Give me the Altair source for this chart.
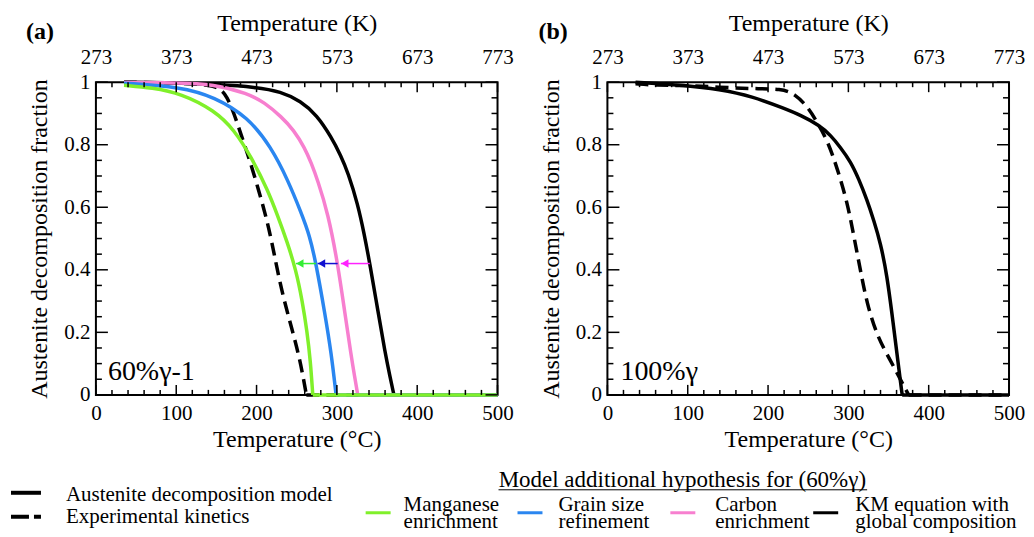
import altair as alt
import pandas as pd

FONT = "Liberation Serif"
W, H = 402, 313

# ---------------- data (temperature in °C, austenite decomposition fraction) -------------
# Panel (a): 60%γ-1
a_km_T = [35, 100, 150, 200, 230, 255, 275, 293, 305, 314, 326, 334, 341, 351, 360, 366, 371, 500]
a_km_f = [1.0, 0.998, 0.993, 0.984, 0.97, 0.94, 0.895, 0.825, 0.765, 0.71, 0.61, 0.515, 0.42, 0.27, 0.135, 0.06, 0.0, 0.0]

a_c_T = [35, 100, 147, 189, 210, 231, 246, 260, 268, 276, 289, 301, 310, 318, 322, 326, 500]
a_c_f = [0.999, 0.998, 0.994, 0.964, 0.935, 0.889, 0.848, 0.79, 0.742, 0.687, 0.58, 0.421, 0.261, 0.122, 0.06, 0.0, 0.0]

a_g_T = [35, 106, 147.5, 189, 218, 239, 256, 266, 274, 285, 293, 299, 500]
a_g_f = [0.997, 0.985, 0.953, 0.889, 0.793, 0.687, 0.58, 0.51, 0.421, 0.261, 0.134, 0.0, 0.0]

a_mn_T = [35, 70, 106, 147.5, 172.4, 193.3, 214, 226, 238, 249, 257, 263, 267, 270, 500]
a_mn_f = [0.99, 0.982, 0.964, 0.91, 0.847, 0.761, 0.655, 0.575, 0.49, 0.40, 0.30, 0.20, 0.11, 0.0, 0.0]

a_exp_T = [35, 100, 140, 155, 163, 172, 181, 189, 201, 214, 222, 231, 243, 254, 262, 500]
a_exp_f = [1.0, 0.998, 0.992, 0.98, 0.955, 0.9, 0.83, 0.77, 0.67, 0.55, 0.45, 0.335, 0.22, 0.115, 0.0, 0.0]

# Arrows (shift of KM curve at fraction 0.42)
arrow_from = [341, 301, 274]
arrow_to = [305, 276, 249]
arrow_f = [0.42, 0.42, 0.42]
arrow_colors = ["#ff22ff", "#1010d0", "#33ee33"]

# Panel (b): 100%γ
b_mod_T = [35, 98, 139, 180, 221, 240, 264, 278, 290, 303, 313, 323, 332, 340, 348, 356, 362, 367, 500]
b_mod_f = [1.0, 0.99, 0.977, 0.955, 0.915, 0.895, 0.862, 0.83, 0.792, 0.745, 0.69, 0.625, 0.555, 0.485, 0.385, 0.225, 0.10, 0.0, 0.0]

b_exp_T = [35, 60, 98, 139, 180, 217, 233, 250, 262, 274, 287, 299, 307, 315, 323, 336, 352, 365, 375, 500]
b_exp_f = [0.995, 0.99, 0.99, 0.984, 0.979, 0.979, 0.963, 0.92, 0.867, 0.814, 0.718, 0.612, 0.505, 0.399, 0.293, 0.186, 0.112, 0.048, 0.0, 0.0]

# Axis ticks
c_major = [0, 100, 200, 300, 400, 500]
c_minor = [t for t in range(0, 501, 20) if t % 100]
k_major = [273, 373, 473, 573, 673, 773]
k_minor = [t + 273 for t in c_minor]
f_major = [0, 0.2, 0.4, 0.6, 0.8, 1.0]
f_minor = [0.05, 0.1, 0.15, 0.25, 0.3, 0.35, 0.45, 0.5, 0.55, 0.65, 0.7, 0.75, 0.85, 0.9, 0.95]

left_legend_labels = ["Austenite decomposition model", "Experimental kinetics"]
right_legend_title = "Model additional hypothesis for (60%γ)"
right_legend_labels = ["Manganese\nenrichment", "Grain size\nrefinement", "Carbon\nenrichment", "KM equation with\nglobal composition"]

GREEN, BLUE, PINK, BLACK = "#80f02a", "#2a86f0", "#f77fcf", "#000000"
right_legend_colors = [GREEN, BLUE, PINK, BLACK]

# ---------------- helpers -------------
common = dict(labelFont=FONT, titleFont=FONT, labelColor="black", titleColor="black",
              titleFontWeight="normal", ticks=False, domain=False, grid=False)
axis_bottom = alt.Axis(values=c_major, labelFontSize=21, labelPadding=8, labelFlush=False,
                       title="Temperature (°C)", titleFontSize=24, titlePadding=4, **common)
axis_left = alt.Axis(values=f_major, format="~g", labelFontSize=21, labelPadding=6, labelFlush=False,
                     title="Austenite decomposition fraction", titleFontSize=24, titlePadding=12, **common)
axis_top = alt.Axis(orient="top", values=k_major, labelFontSize=21, labelPadding=15, labelFlush=False,
                    title="Temperature (K)", titleFontSize=24, titlePadding=11, **common)

sc_C = alt.Scale(domain=[0, 500], nice=False, zero=False, padding=0)
xC = alt.X("T:Q", scale=sc_C, axis=axis_bottom)
yF = alt.Y("f:Q", scale=alt.Scale(domain=[0, 1], nice=False, padding=0), axis=axis_left)
xK = alt.X("K:Q", scale=alt.Scale(domain=[273, 773], nice=False, zero=False, padding=0), axis=axis_top)


def tick_layers():
    layers = []
    for vals, ln in ((c_major, 10), (c_minor, 5)):
        d = pd.DataFrame({"T": vals})
        layers.append(alt.Chart(d).mark_rule(color="black", strokeWidth=1.5).encode(
            x=xC, y=alt.value(H), y2=alt.value(H - ln)))
    for vals, ln in ((f_major, 12), (f_minor, 6)):
        d = pd.DataFrame({"f": vals})
        layers.append(alt.Chart(d).mark_rule(color="black", strokeWidth=1.5).encode(
            y=yF, x=alt.value(0), x2=alt.value(ln)))
        layers.append(alt.Chart(d).mark_rule(color="black", strokeWidth=1.5).encode(
            y=yF, x=alt.value(W), x2=alt.value(W - ln)))
    return layers


def top_layer():
    layers = []
    for vals, ln in ((k_major, 10), (k_minor, 5)):
        d = pd.DataFrame({"K": vals})
        layers.append(alt.Chart(d).mark_rule(color="black", strokeWidth=1.5).encode(
            x=xK, y=alt.value(0), y2=alt.value(ln)))
    return alt.layer(*layers)


def text_layer(txt, x, y, size, align="left", baseline="alphabetic", weight="normal", line_height=None):
    kw = dict(align=align, baseline=baseline, fontSize=size, fontWeight=weight, font=FONT, color="black")
    if line_height:
        kw["lineBreak"] = "\n"
        kw["lineHeight"] = line_height
    return alt.Chart(pd.DataFrame({"t": [txt]})).mark_text(**kw).encode(
        text="t:N", x=alt.value(x), y=alt.value(y))


def curve(T, f, color, dash=None):
    """Smooth falling branch (basis) + flat zero branch (linear)."""
    kw = dict(strokeWidth=3.5, color=color)
    if dash:
        kw["strokeDash"] = dash
    n_fall = next(i for i, v in enumerate(f) if v == 0) + 1
    fall = pd.DataFrame({"T": T[:n_fall], "f": f[:n_fall]})
    flat = pd.DataFrame({"T": T[n_fall - 1:], "f": f[n_fall - 1:]})
    return [
        alt.Chart(fall).mark_line(interpolate="basis", **kw).encode(x=xC, y=yF),
        alt.Chart(flat).mark_line(interpolate="linear", **kw).encode(x=xC, y=yF),
    ]


def hline(x1, x2, y, color, width, dash=None):
    kw = dict(color=color, strokeWidth=width)
    if dash:
        kw["strokeDash"] = dash
    return alt.Chart(pd.DataFrame({"s": [0]})).mark_rule(**kw).encode(
        x=alt.value(x1), x2=alt.value(x2), y=alt.value(y))


# ---------------- panel (a) -------------
arrows = pd.DataFrame({"T": arrow_from, "T2": arrow_to, "f": arrow_f, "c": arrow_colors})

a_layers = []
a_layers += curve(a_exp_T, a_exp_f, BLACK, dash=[13, 7])
a_layers += curve(a_km_T, a_km_f, BLACK)
a_layers += curve(a_c_T, a_c_f, PINK)
a_layers += curve(a_g_T, a_g_f, BLUE)
a_layers += curve(a_mn_T, a_mn_f, GREEN)
a_layers += [
    alt.Chart(arrows).mark_rule(strokeWidth=1.5).encode(
        x=xC, x2="T2:Q", y=yF, color=alt.Color("c:N", scale=None)),
    alt.Chart(arrows).mark_point(shape="triangle-left", filled=True, opacity=1, size=70, xOffset=4).encode(
        x=alt.X("T2:Q", scale=sc_C, axis=axis_bottom), y=yF,
        color=alt.Color("c:N", scale=None)),
]
a_layers += tick_layers()
a_layers += [
    text_layer("60%γ-1", 12, 298, 28),
    text_layer("(a)", -70, -50, 24, baseline="middle", weight="bold"),
    # left legend
    hline(-85, -55, 411, BLACK, 4),
    hline(-85, -55, 435, BLACK, 4, dash=[18, 5]),
    text_layer(left_legend_labels[0], -30, 413, 21, baseline="middle"),
    text_layer(left_legend_labels[1], -30, 435, 21, baseline="middle"),
]
panel_a = alt.layer(alt.layer(*a_layers), top_layer()).resolve_scale(x="independent").properties(
    width=W, height=H)

# ---------------- panel (b) -------------
b_layers = []
b_layers += curve(b_exp_T, b_exp_f, BLACK, dash=[13, 7])
b_layers += curve(b_mod_T, b_mod_f, BLACK)
b_layers += tick_layers()
b_layers += [
    text_layer("100%γ", 13, 298, 28),
    text_layer("(b)", -69, -50, 24, baseline="middle", weight="bold"),
    text_layer(right_legend_title, 75, 398, 23, align="center", baseline="middle"),
    hline(-109, 260, 408, BLACK, 1),
]
swatch_x = [-242, -90, 63, 206]
label_x = [-204, -49, 108, 248]
for lab, col, sx, lx in zip(right_legend_labels, right_legend_colors, swatch_x, label_x):
    b_layers.append(hline(sx, sx + 25, 431, col, 3))
    b_layers.append(text_layer(lab, lx, 423, 21, baseline="middle", line_height=17))

panel_b = alt.layer(alt.layer(*b_layers), top_layer()).resolve_scale(x="independent").properties(
    width=W, height=H)

chart = alt.hconcat(panel_a, panel_b, spacing=110, bounds="flush").properties(
    padding={"left": 0, "top": 2, "right": 0, "bottom": 0}
).configure(font=FONT).configure_view(stroke="black", strokeWidth=2)

chart.save("out.html", embed_options={"renderer": "svg", "actions": False})
